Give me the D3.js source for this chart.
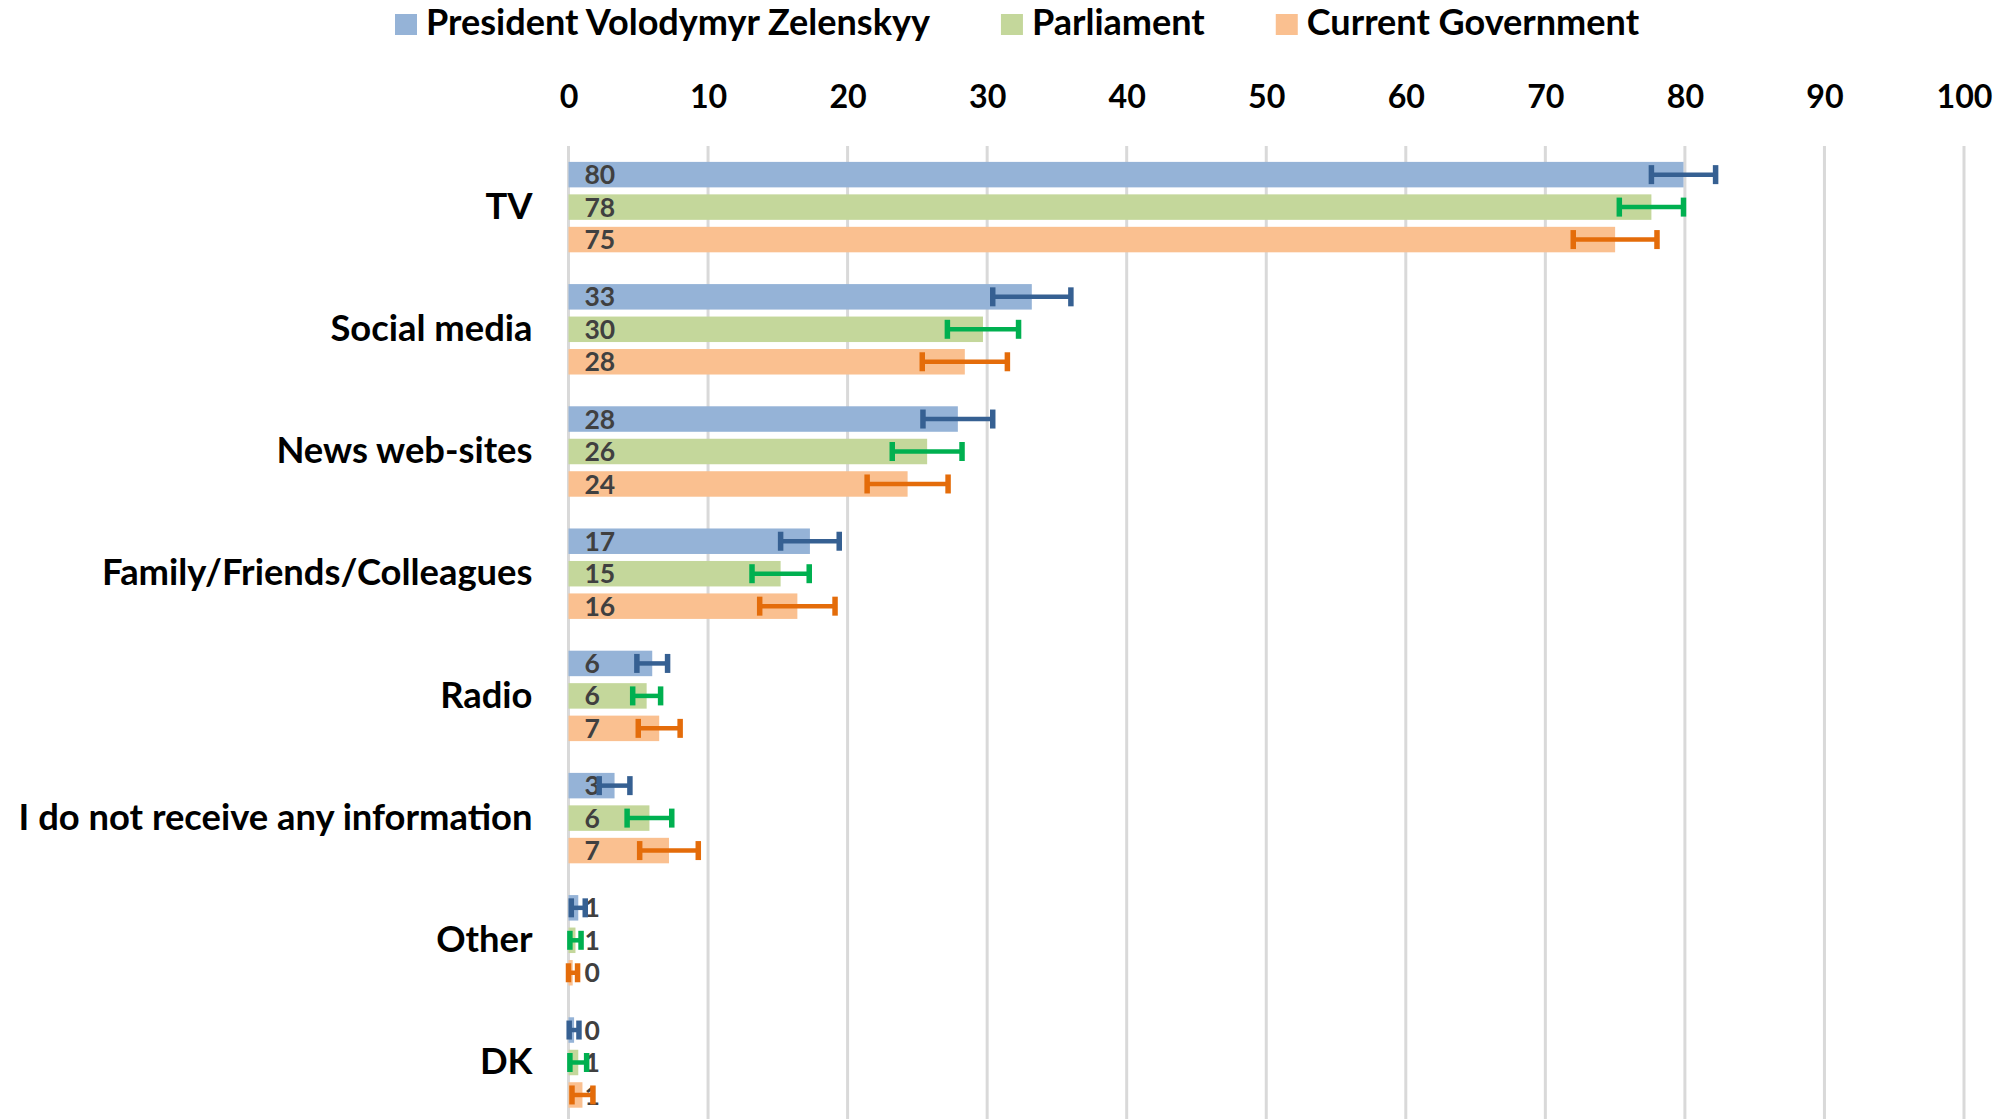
<!DOCTYPE html>
<html>
<head>
<meta charset="utf-8">
<script src="https://cdn.jsdelivr.net/npm/d3@7"></script>
<style>
  html, body { margin: 0; padding: 0; background: #fff; }
  svg { display: block; }
</style>
</head>
<body>
<svg id="chart" width="2012" height="1119"></svg>
<script>
// ---------- data ----------
const categories = ["TV", "Social media", "News web-sites", "Family/Friends/Colleagues",
                    "Radio", "I do not receive any information", "Other", "DK"];
const seriesNames = ["President Volodymyr Zelenskyy", "Parliament", "Current Government"];
const zelenskyy  = [79.9, 33.2, 27.9, 17.3, 6.0, 3.3, 0.7, 0.4];
const parliament = [77.6, 29.7, 25.7, 15.2, 5.6, 5.8, 0.5, 0.7];
const government = [75.0, 28.4, 24.3, 16.4, 6.5, 7.2, 0.3, 1.0];
const zelenskyyErr  = [2.3, 2.8, 2.5, 2.1, 1.1, 1.1, 0.5, 0.35];
const parliamentErr = [2.3, 2.55, 2.5, 2.05, 1.0, 1.6, 0.4, 0.6];
const governmentErr = [3.0, 3.05, 2.9, 2.7, 1.5, 2.1, 0.35, 0.75];
const xTicks = [0, 10, 20, 30, 40, 50, 60, 70, 80, 90, 100];

const barColors = ["#95B3D7", "#C4D79B", "#FAC090"];
const errColors = ["#366092", "#00B050", "#E46C0A"];

const seriesValues = [zelenskyy, parliament, government];
const seriesErrors = [zelenskyyErr, parliamentErr, governmentErr];

const FONT = "Lato, 'Open Sans', sans-serif";
const svg = d3.select("#chart");

// font size so that a text reaches a target width
function fitSize(text, targetWidth, weight) {
  const t = svg.append("text").attr("font-family", FONT).attr("font-weight", weight || "bold")
    .attr("font-size", 100).text(text);
  const w = t.node().getComputedTextLength();
  t.remove();
  return 100 * targetWidth / w;
}

const catSize = fitSize("I do not receive any information", 514);
const tickSize = fitSize("100", 56);
const legSize = fitSize("President Volodymyr Zelenskyy", 504);
const lblSize = 26.5;

// ---------- scales ----------
const x = d3.scaleLinear().domain([0, 100]).range([568.5, 1964]);
const y0 = d3.scaleBand().domain(categories).range([146, 146 + 8 * 122.2])
  .paddingInner(0.26).paddingOuter(0.13);
const y1 = d3.scaleBand().domain(seriesNames).range([0, y0.bandwidth()]).paddingInner(0.215);

// ---------- gridlines ----------
svg.append("g").selectAll("line").data(xTicks).join("line")
  .attr("x1", d => x(d)).attr("x2", d => x(d))
  .attr("y1", 146).attr("y2", 1119)
  .attr("stroke", "#D9D9D9").attr("stroke-width", 3);

// ---------- top axis (labels only) ----------
const xAxis = d3.axisTop(x).tickValues(xTicks).tickSize(0).tickPadding(0).tickFormat(d3.format("d"));
const gx = svg.append("g").attr("transform", "translate(0,108)").call(xAxis);
gx.select(".domain").remove();
gx.selectAll("text").attr("font-family", FONT).attr("font-weight", "bold")
  .attr("font-size", tickSize).attr("fill", "#000").attr("dy", 0);

// ---------- category axis ----------
const yAxis = d3.axisLeft(y0).tickSize(0).tickPadding(36);
const gy = svg.append("g").attr("transform", `translate(${x(0)},0)`).call(yAxis);
gy.select(".domain").remove();
gy.selectAll("text").attr("font-family", FONT).attr("font-weight", "bold")
  .attr("font-size", catSize).attr("fill", "#000");

// ---------- bars ----------
const rows = [];
categories.forEach((c, i) => {
  seriesNames.forEach((s, j) => {
    rows.push({ cat: c, ser: s, j, v: seriesValues[j][i], e: seriesErrors[j][i] });
  });
});

svg.append("g").selectAll("rect").data(rows).join("rect")
  .attr("x", x(0))
  .attr("y", d => y0(d.cat) + y1(d.ser))
  .attr("width", d => x(d.v) - x(0))
  .attr("height", y1.bandwidth())
  .attr("fill", d => barColors[d.j]);

// ---------- data labels ----------
svg.append("g").selectAll("text").data(rows).join("text")
  .attr("x", x(0) + 16)
  .attr("y", d => y0(d.cat) + y1(d.ser) + y1.bandwidth() / 2)
  .attr("dy", "0.36em")
  .attr("font-family", FONT).attr("font-weight", "bold").attr("font-size", lblSize)
  .attr("fill", "#404040")
  .text(d => Math.round(d.v));

// ---------- error bars ----------
const gErr = svg.append("g");
rows.forEach(d => {
  const cy = y0(d.cat) + y1(d.ser) + y1.bandwidth() / 2;
  const xl = x(Math.max(0, d.v - d.e)), xr = x(d.v + d.e);
  const g = gErr.append("g").attr("stroke", errColors[d.j]);
  g.append("line").attr("x1", xl).attr("x2", xr).attr("y1", cy).attr("y2", cy).attr("stroke-width", 4.5);
  g.append("line").attr("x1", xl).attr("x2", xl).attr("y1", cy - 9.5).attr("y2", cy + 9.5).attr("stroke-width", 5.5);
  g.append("line").attr("x1", xr).attr("x2", xr).attr("y1", cy - 9.5).attr("y2", cy + 9.5).attr("stroke-width", 5.5);
});

// ---------- legend ----------
const leg = svg.append("g");
let lx = 395;
seriesNames.forEach((s, j) => {
  leg.append("rect").attr("x", lx).attr("y", 14).attr("width", 22).attr("height", 21).attr("fill", barColors[j]);
  const t = leg.append("text").attr("x", lx + 31).attr("y", 35)
    .attr("font-family", FONT).attr("font-weight", "bold").attr("font-size", legSize)
    .attr("fill", "#000").text(s);
  lx += 31 + t.node().getComputedTextLength() + 71;
});
</script>
</body>
</html>
